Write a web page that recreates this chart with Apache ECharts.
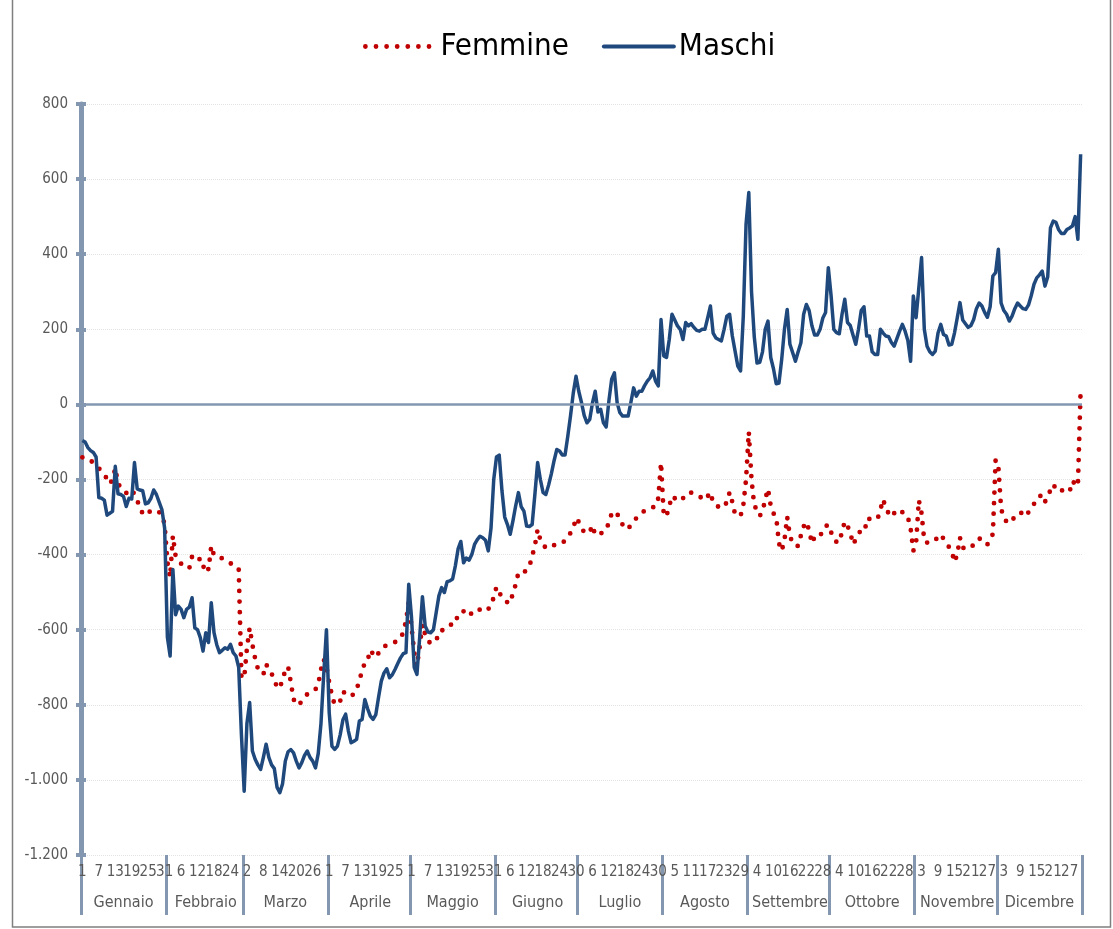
<!DOCTYPE html>
<html>
<head>
<meta charset="utf-8">
<script src="https://cdn.jsdelivr.net/npm/echarts@6/dist/echarts.min.js"></script>
<style>
  html, body { margin: 0; padding: 0; background: #fff; }
  #chart { width: 1113px; height: 929px; }
</style>
</head>
<body>
<div id="chart"></div>
<script>
const FONT = "'Liberation Sans Narrow', 'Arial Narrow', 'DejaVu Sans Condensed', sans-serif";

const months = ['Gennaio', 'Febbraio', 'Marzo', 'Aprile', 'Maggio', 'Giugno',
  'Luglio', 'Agosto', 'Settembre', 'Ottobre', 'Novembre', 'Dicembre'];
const monthDays = [31, 28, 31, 30, 31, 30, 31, 31, 30, 31, 30, 31];

// saldo giornaliero, femmine
const femmine = [
  -141, -141, -145, -150, -155, -162, -170, -178, -188, -198, -212, -200, -170, -210, -222, -230, -236, -230, -226, -240, -255, -278, -290, -296, -290, -282, -282, -285, -287, -295, -320,
  -420, -460, -350, -404, -415, -424, -432, -435, -436, -405, -400, -410, -413, -435, -423, -440, -377, -402, -405, -408, -410, -413, -418, -423, -428, -432, -437, -724,
  -730, -650, -595, -640, -677, -704, -712, -719, -692, -705, -716, -739, -750, -757, -730, -710, -698, -740, -785, -800, -800, -790, -779, -772, -765, -762, -759, -745, -706, -679, -700,
  -740, -775, -800, -795, -790, -765, -770, -775, -778, -770, -762, -732, -713, -686, -682, -654, -665, -674, -662, -650, -645, -641, -639, -636, -633, -630, -622, -608, -577, -527,
  -590, -660, -697, -645, -586, -613, -630, -636, -633, -631, -605, -602, -600, -593, -587, -586, -585, -557, -553, -551, -558, -564, -555, -548, -544, -547, -550, -552, -545, -537, -513,
  -486, -500, -515, -523, -527, -530, -502, -480, -448, -448, -448, -440, -432, -404, -377, -333, -361, -372, -383, -380, -377, -375, -373, -371, -370, -362, -355, -342, -330, -302,
  -313, -330, -340, -344, -340, -322, -348, -345, -343, -342, -330, -317, -290, -285, -290, -311, -320, -328, -333, -320, -312, -303, -295, -289, -283, -278, -276, -274, -272, -250, -155,
  -297, -297, -271, -244, -250, -258, -254, -250, -242, -234, -235, -237, -241, -245, -250, -255, -245, -234, -262, -268, -273, -277, -268, -262, -234, -260, -293, -295, -297, -269, -200,
  -73, -200, -270, -280, -297, -285, -253, -225, -270, -290, -300, -370, -390, -362, -300, -350, -370, -377, -377, -349, -325, -313, -335, -370, -353, -353, -353, -331, -325, -320,
  -340, -360, -366, -368, -339, -312, -324, -340, -373, -360, -348, -330, -321, -328, -304, -304, -304, -304, -280, -253, -278, -290, -300, -290, -280, -283, -287, -290, -300, -330, -390,
  -370, -255, -290, -364, -368, -370, -365, -360, -355, -346, -358, -368, -380, -391, -420, -400, -355, -382, -383, -383, -383, -372, -360, -358, -357, -365, -373, -360, -345, -148,
  -165, -277, -304, -312, -317, -308, -300, -294, -287, -293, -299, -287, -278, -265, -249, -245, -241, -260, -240, -230, -213, -225, -233, -230, -226, -229, -232, -204, -212, -218, 38
];

// saldo giornaliero, maschi
const maschi = [
  -96, -100, -115, -123, -128, -140, -248, -250, -255, -295, -290, -285, -165, -238, -240, -245, -272, -250, -252, -155, -225, -228, -230, -265, -262, -250, -228, -240, -260, -280, -330,
  -620, -670, -440, -560, -537, -546, -568, -546, -540, -515, -595, -600, -621, -657, -608, -634, -528, -608, -640, -661, -655, -648, -652, -639, -661, -670, -700, -880,
  -1030, -850, -794, -923, -945, -960, -972, -940, -905, -940, -960, -970, -1020, -1034, -1010, -950, -925, -919, -928, -950, -968, -954, -935, -923, -940, -950, -968, -930, -850, -720, -600,
  -820, -910, -919, -910, -880, -840, -825, -870, -901, -897, -892, -843, -839, -786, -810, -830, -839, -826, -780, -737, -715, -704, -728, -720, -706, -690, -675, -664, -661, -479,
  -565, -700, -719, -620, -512, -590, -606, -608, -600, -555, -510, -488, -501, -472, -470, -465, -430, -385, -365, -422, -409, -415, -400, -373, -360, -351, -355, -362, -390, -330, -200,
  -140, -135, -230, -300, -320, -346, -310, -270, -235, -272, -284, -324, -325, -320, -240, -155, -200, -235, -240, -215, -185, -150, -120, -124, -135, -135, -85, -30, 30, 75,
  35, 5, -30, -49, -40, 4, 35, -20, -13, -49, -60, 10, 67, 84, 4, -22, -31, -31, -31, 5, 44, 22, 35, 35, 50, 62, 71, 89, 62, 49, 226,
  129, 125, 173, 240, 225, 209, 200, 173, 218, 209, 215, 205, 197, 195, 200, 200, 230, 262, 190, 177, 173, 169, 200, 235, 240, 182, 142, 102, 89, 235, 480,
  564, 300, 180, 110, 112, 140, 200, 222, 125, 95, 55, 57, 120, 200, 253, 160, 138, 115, 140, 164, 240, 266, 250, 210, 185, 185, 200, 230, 245, 364,
  290, 200, 191, 188, 240, 280, 218, 210, 185, 160, 200, 250, 260, 182, 182, 140, 133, 133, 200, 190, 182, 180, 165, 155, 175, 195, 213, 195, 170, 115, 289,
  231, 310, 391, 200, 155, 140, 133, 142, 190, 213, 186, 182, 158, 160, 190, 230, 271, 225, 215, 205, 210, 226, 255, 270, 262, 245, 232, 260, 342, 351,
  413, 270, 250, 240, 222, 235, 255, 270, 262, 255, 253, 265, 290, 320, 337, 345, 355, 315, 340, 470, 488, 485, 465, 455, 455, 466, 470, 475, 500, 440, 666
];

// day-of-month categories, month starts and month label positions
const days = [];
const monthStart = new Set();
const monthMid = {};
monthDays.forEach((n, m) => {
  const start = days.length;
  monthStart.add(start);
  monthMid[start + Math.floor(n / 2)] = months[m];
  for (let d = 1; d <= n; d++) days.push(String(d));
});

const AXIS = '#8497B0';
const TEXT = '#595959';

const fmt = (v) => {
  const s = String(Math.abs(v));
  const t = s.length > 3 ? s.slice(0, s.length - 3) + '.' + s.slice(-3) : s;
  return (v < 0 ? '-' : '') + t;
};

// day labels every 6 days, split over two axes so that close labels are not dropped
const dayAxis = (phase, withTicks) => ({
  type: 'category',
  data: days,
  position: 'bottom',
  boundaryGap: true,
  axisLine: { show: false, onZero: false },
  axisTick: withTicks ? {
    show: true,
    interval: (i) => monthStart.has(i),
    length: 60,
    lineStyle: { color: AXIS, width: 3 }
  } : { show: false },
  axisLabel: {
    interval: (i) => i % 12 === phase,
    margin: 10, fontSize: 15, color: TEXT, fontFamily: FONT
  },
  splitLine: { show: false }
});

const chart = echarts.init(document.getElementById('chart'));

chart.setOption({
  animation: false,
  backgroundColor: '#fff',
  graphic: [{
    type: 'rect',
    shape: { x: 12.5, y: -5, width: 1098, height: 932 },
    style: { fill: 'none', stroke: '#7F7F7F', lineWidth: 1.5 },
    silent: true
  }],
  legend: {
    left: 358,
    top: 26,
    itemWidth: 70,
    itemHeight: 6,
    itemGap: 33,
    textStyle: { fontSize: 31, color: '#000', fontFamily: FONT },
    data: [
      { name: 'Femmine', itemStyle: { color: 'transparent' },
        lineStyle: { color: '#C00000', width: 4.8, type: [0, 10.6], cap: 'round' } },
      { name: 'Maschi', itemStyle: { color: 'transparent' },
        lineStyle: { color: '#1F497D', width: 4, type: 'solid', cap: 'round' } }
    ]
  },
  grid: { left: 81, right: 31, top: 104, bottom: 74 },
  xAxis: [dayAxis(0, true), dayAxis(6, false), {
    type: 'category',
    data: days,
    position: 'bottom',
    boundaryGap: true,
    axisLine: { show: false, onZero: false },
    axisTick: { show: false },
    axisLabel: {
      interval: (i) => monthMid[i] !== undefined,
      formatter: (v, i) => monthMid[i] || '',
      margin: 40, fontSize: 16, color: TEXT, fontFamily: FONT
    }
  }],
  yAxis: [{
    type: 'value',
    min: -1200, max: 800, interval: 200,
    axisLine: { show: true, lineStyle: { color: AXIS, width: 5 } },
    axisTick: { show: true, inside: false, length: 5, lineStyle: { color: AXIS, width: 4 } },
    axisLabel: { margin: 13, fontSize: 15, color: TEXT, fontFamily: FONT, formatter: fmt },
    splitLine: { show: true, lineStyle: { color: '#E3E3E3', width: 1, type: 'dotted' } }
  }, {
    type: 'value',
    min: -1200, max: 800, interval: 200,
    position: 'left',
    axisLine: { show: false },
    axisTick: { show: true, inside: true, length: 5, lineStyle: { color: AXIS, width: 4 } },
    axisLabel: { show: false },
    splitLine: { show: false }
  }],
  series: [{
    name: 'Femmine',
    type: 'line',
    data: femmine,
    symbol: 'none',
    lineStyle: { color: '#C00000', width: 4.8, type: [0, 10.6], cap: 'round', join: 'round' },
    itemStyle: { color: '#C00000' },
    markLine: {
      silent: true,
      symbol: 'none',
      label: { show: false },
      lineStyle: { color: AXIS, width: 2.5, type: 'solid' },
      data: [{ yAxis: 0 }]
    }
  }, {
    name: 'Maschi',
    type: 'line',
    data: maschi,
    symbol: 'none',
    lineStyle: { color: '#1F497D', width: 3.5, join: 'round' },
    itemStyle: { color: '#1F497D' }
  }]
});
</script>
</body>
</html>
